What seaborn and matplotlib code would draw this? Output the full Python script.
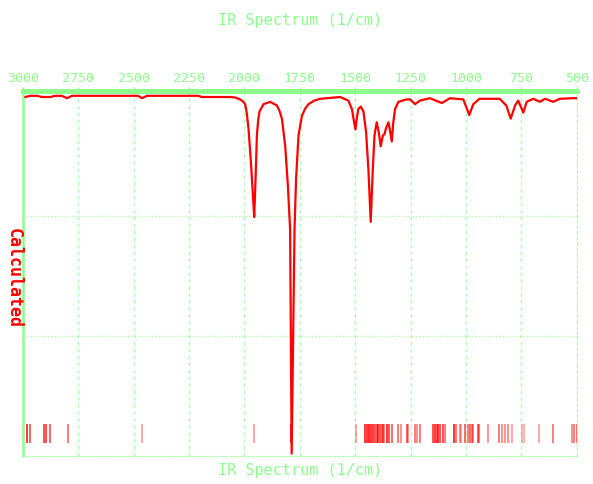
import matplotlib
matplotlib.use("Agg")
import matplotlib.pyplot as plt
import seaborn as sns

# calculated IR spectrum (wavenumber in 1/cm, arbitrary units)
wavenumber = [2990, 2967, 2937, 2914, 2877, 2854, 2824, 2801, 2779, 2741,
              2480, 2463, 2440, 2209, 2192, 2060, 2040, 2020, 2005, 1997,
              1990, 1982, 1971, 1962, 1956, 1950, 1944, 1938, 1932, 1914,
              1884, 1854, 1843, 1831, 1816, 1804, 1794, 1787, 1774, 1767,
              1756, 1741, 1727, 1711, 1685, 1658, 1568, 1531, 1515, 1505,
              1499, 1493, 1486, 1475, 1463, 1451, 1440, 1430, 1421, 1413,
              1403, 1394, 1385, 1375, 1368, 1361, 1350, 1342, 1335, 1328,
              1320, 1305, 1267, 1252, 1230, 1208, 1163, 1109, 1072, 1012,
              985, 967, 939, 848, 818, 798, 778, 764, 741, 726,
              696, 666, 643, 606, 576, 515, 500]
intensity = [2.99, 3.00, 3.00, 2.99, 2.99, 3.00, 3.00, 2.98, 3.00, 3.00,
             3.00, 2.98, 3.00, 3.00, 2.99, 2.99, 2.985, 2.97, 2.95, 2.93,
             2.86, 2.73, 2.45, 2.17, 1.99, 2.31, 2.67, 2.80, 2.87, 2.93,
             2.95, 2.92, 2.88, 2.81, 2.58, 2.25, 1.89, 0.02, 1.89, 2.31,
             2.67, 2.83, 2.89, 2.93, 2.96, 2.975, 2.99, 2.96, 2.89, 2.78,
             2.72, 2.81, 2.89, 2.91, 2.87, 2.70, 2.37, 1.95, 2.37, 2.67,
             2.78, 2.70, 2.58, 2.67, 2.68, 2.73, 2.78, 2.70, 2.62, 2.78,
             2.89, 2.95, 2.97, 2.97, 2.93, 2.96, 2.98, 2.94, 2.98, 2.97,
             2.84, 2.93, 2.975, 2.975, 2.92, 2.81, 2.92, 2.96, 2.86, 2.95,
             2.975, 2.95, 2.975, 2.95, 2.975, 2.98, 2.98]

# stick positions of the calculated modes and their relative strength
stick_pos = [2982, 2970, 2907, 2896, 2880, 2799, 2463, 1956, 1789, 1497,
             1455, 1445, 1437, 1428, 1418, 1410, 1403, 1395, 1388, 1380,
             1373, 1368, 1357, 1347, 1335, 1305, 1294, 1267, 1260, 1230,
             1222, 1208, 1150, 1141, 1132, 1125, 1115, 1105, 1094, 1054,
             1045, 1027, 1024, 1004, 989, 982, 974, 967, 944, 940,
             899, 849, 839, 824, 809, 793, 748, 740, 668, 606,
             523, 512, 500]
stick_strength = [0.9, 0.7, 0.8, 0.8, 0.7, 0.6, 0.4, 0.4, 1.0, 0.4,
                  0.9, 0.9, 1.0, 0.9, 0.9, 0.8, 0.8, 0.9, 0.8, 0.7,
                  0.7, 0.6, 0.9, 0.8, 0.7, 0.6, 0.5, 0.7, 0.5, 0.6,
                  0.5, 0.6, 0.8, 0.9, 0.8, 0.9, 0.8, 0.8, 0.6, 0.9,
                  0.6, 0.5, 0.4, 0.7, 0.6, 0.7, 0.6, 0.6, 0.7, 0.6,
                  0.5, 0.6, 0.5, 0.5, 0.5, 0.4, 0.35, 0.35, 0.4, 0.6,
                  0.5, 0.6, 0.7]

x_ticks = [3000, 2750, 2500, 2250, 2000, 1750, 1500, 1250, 1000, 750, 500]
axis_title = "IR Spectrum (1/cm)"
y_title = "Calculated"

green = "#8cff8c"
grid_green = "#adffad"

sns.set_style("white")
plt.rcParams["font.family"] = ["DejaVu Sans Mono"]

fig = plt.figure(figsize=(5.93, 4.85), dpi=100)
ax = fig.add_axes([23 / 593, 1 - 457 / 485, 553.7 / 593, 365 / 485])

sns.lineplot(x=wavenumber, y=intensity, color="red", lw=1.6, ax=ax, zorder=3)
ax.vlines(stick_pos, 0.11, 0.27, colors=[(1, 0, 0, a) for a in stick_strength],
          lw=1.2, zorder=2)

ax.set_xlim(3000, 500)
ax.set_ylim(0, 3.04)
ax.set_xticks(x_ticks)
ax.set_yticks([1, 2])
ax.set_yticklabels([])
ax.xaxis.tick_top()
ax.tick_params(axis="x", colors=green, length=3, width=1, pad=2, labelsize=9.5)
ax.tick_params(axis="y", length=0)

ax.grid(axis="x", color=grid_green, lw=1, ls=(0, (2.5, 2.5)))
ax.grid(axis="y", color=grid_green, lw=1, ls=(0, (1, 1.5)))

ax.spines["top"].set_color(green)
ax.spines["top"].set_linewidth(3.6)
ax.spines["left"].set_color(green)
ax.spines["left"].set_linewidth(1.8)
ax.spines["bottom"].set_color(grid_green)
ax.spines["bottom"].set_linestyle((0, (1, 1.5)))
ax.spines["right"].set_color(grid_green)
ax.spines["right"].set_linestyle((0, (2.5, 2.5)))
ax.set_xlabel("")
ax.set_ylabel("")

fig.text(300 / 593, 1 - 21 / 485, axis_title, color=green, fontsize=11,
         ha="center", va="center")
fig.text(300 / 593, 1 - 471 / 485, axis_title, color=green, fontsize=11,
         ha="center", va="center")
fig.text(14 / 593, 1 - 278 / 485, y_title, color="red", fontsize=12,
         fontweight="bold", rotation=270, ha="center", va="center")

fig.savefig("out.png", dpi=100)
